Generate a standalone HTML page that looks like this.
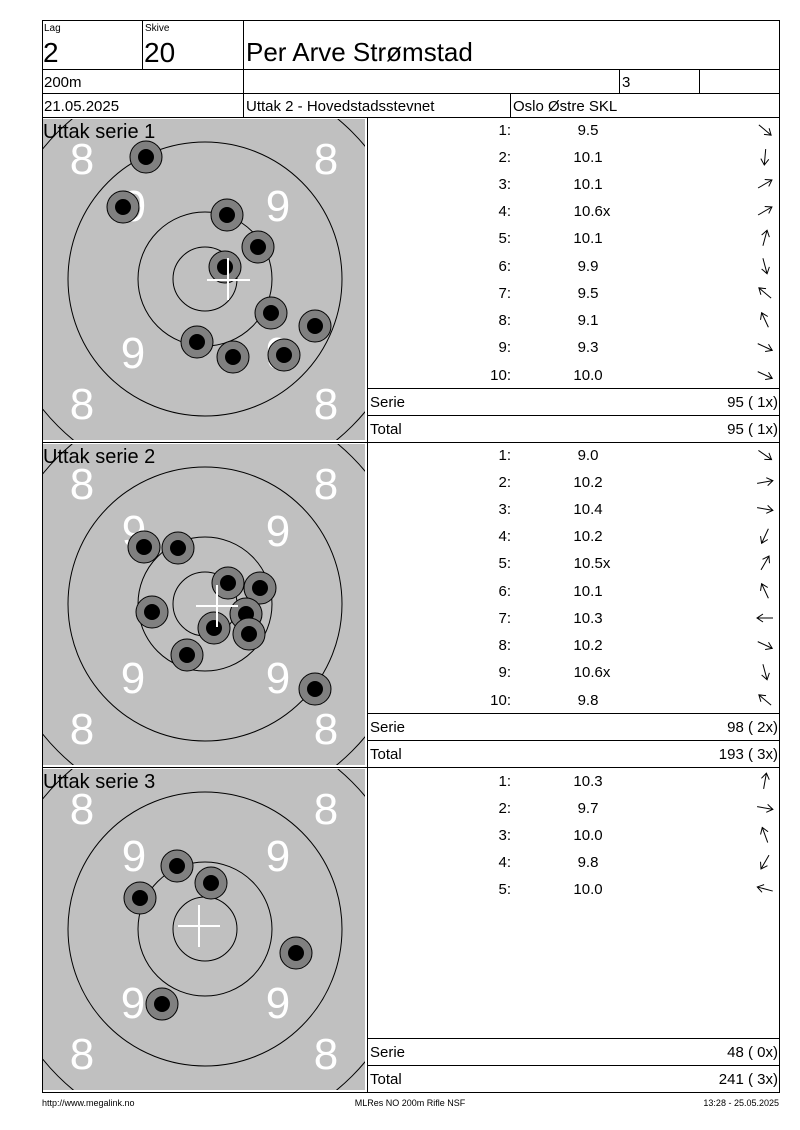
<!DOCTYPE html>
<html><head><meta charset="utf-8"><style>
html,body{margin:0;padding:0;background:#fff;}
svg{display:block;}
text{font-family:"Liberation Sans",Arial,sans-serif;}
</style></head><body>
<svg width="800" height="1130" viewBox="0 0 800 1130" xmlns="http://www.w3.org/2000/svg">
<defs>
<clipPath id="pc"><rect x="43" y="119" width="322" height="321"/></clipPath>
<g id="arr"><line x1="-8" y1="0" x2="8" y2="0" stroke="#000" stroke-width="1"/><polyline points="2,-4 8,0 2,4" fill="none" stroke="#000" stroke-width="1"/></g>
<g id="shot"><circle r="16" fill="#808080" stroke="#000" stroke-width="1"/><circle r="8" fill="#000"/></g>
<g id="panel">
<rect x="43" y="119" width="322" height="321" fill="#c0c0c0"/>
<g clip-path="url(#pc)" fill="none" stroke="#000" stroke-width="1">
<circle cx="205" cy="279" r="208"/>
<circle cx="205" cy="279" r="137"/>
<circle cx="205" cy="279" r="67"/>
<circle cx="205" cy="279" r="32"/>
</g>
<g fill="#fff" font-size="44" text-anchor="middle">
<text x="82" y="174">8</text><text x="326" y="174">8</text>
<text x="134" y="221">9</text><text x="278" y="221">9</text>
<text x="133" y="368">9</text><text x="278" y="368">9</text>
<text x="82" y="419">8</text><text x="326" y="419">8</text>
</g>
</g>
</defs>

<!-- header -->
<g stroke="#000" stroke-width="1" fill="none">
<rect x="42.5" y="20.5" width="737" height="1072"/>
<line x1="42" y1="69.5" x2="780" y2="69.5"/>
<line x1="42" y1="93.5" x2="780" y2="93.5"/>
<line x1="42" y1="117.5" x2="780" y2="117.5"/>
<line x1="142.5" y1="20" x2="142.5" y2="69"/>
<line x1="243.5" y1="20" x2="243.5" y2="117"/>
<line x1="619.5" y1="69" x2="619.5" y2="93"/>
<line x1="699.5" y1="69" x2="699.5" y2="93"/>
<line x1="510.5" y1="93" x2="510.5" y2="117"/>
<line x1="367.5" y1="117" x2="367.5" y2="1092"/>
<line x1="42" y1="442.5" x2="780" y2="442.5"/>
<line x1="42" y1="767.5" x2="780" y2="767.5"/>
<line x1="367" y1="388.5" x2="780" y2="388.5"/>
<line x1="367" y1="415.5" x2="780" y2="415.5"/>
<line x1="367" y1="713.5" x2="780" y2="713.5"/>
<line x1="367" y1="740.5" x2="780" y2="740.5"/>
<line x1="367" y1="1038.5" x2="780" y2="1038.5"/>
<line x1="367" y1="1065.5" x2="780" y2="1065.5"/>
</g>
<g fill="#000">
<text x="44" y="31" font-size="10">Lag</text>
<text x="145" y="31" font-size="10">Skive</text>
<text x="43" y="62" font-size="28">2</text>
<text x="144" y="62" font-size="28">20</text>
<text x="246" y="61" font-size="26">Per Arve Strømstad</text>
<text x="44" y="87" font-size="15">200m</text>
<text x="622" y="87" font-size="15">3</text>
<text x="44" y="111" font-size="15">21.05.2025</text>
<text x="246" y="111" font-size="15">Uttak 2 - Hovedstadsstevnet</text>
<text x="513" y="111" font-size="15">Oslo Østre SKL</text>
</g>

<!-- panels -->
<use href="#panel"/>
<use href="#panel" y="325"/>
<use href="#panel" y="650"/>
<text x="43" y="138" font-size="20">Uttak serie 1</text>
<text x="43" y="463" font-size="20">Uttak serie 2</text>
<text x="43" y="788" font-size="20">Uttak serie 3</text>

<!-- shots s1 -->
<use href="#shot" x="146" y="157"/><use href="#shot" x="123" y="207"/><use href="#shot" x="227" y="215"/><use href="#shot" x="258" y="247"/><use href="#shot" x="225" y="267"/><use href="#shot" x="271" y="313"/><use href="#shot" x="315" y="326"/><use href="#shot" x="197" y="342"/><use href="#shot" x="233" y="357"/><use href="#shot" x="284" y="355"/>
<g stroke="#fff" stroke-width="2"><line x1="207" y1="280" x2="250" y2="280"/><line x1="228" y1="258" x2="228" y2="300"/></g>
<!-- shots s2 -->
<use href="#shot" x="144" y="547"/><use href="#shot" x="178" y="548"/><use href="#shot" x="228" y="583"/><use href="#shot" x="260" y="588"/><use href="#shot" x="152" y="612"/><use href="#shot" x="246" y="614"/><use href="#shot" x="214" y="628"/><use href="#shot" x="249" y="634"/><use href="#shot" x="187" y="655"/><use href="#shot" x="315" y="689"/>
<g stroke="#fff" stroke-width="2"><line x1="196" y1="606" x2="238" y2="606"/><line x1="217" y1="585" x2="217" y2="627"/></g>
<!-- shots s3 -->
<use href="#shot" x="177" y="866"/><use href="#shot" x="211" y="883"/><use href="#shot" x="140" y="898"/><use href="#shot" x="296" y="953"/><use href="#shot" x="162" y="1004"/>
<g stroke="#fff" stroke-width="2"><line x1="178" y1="926" x2="220" y2="926"/><line x1="199" y1="905" x2="199" y2="947"/></g>

<!-- tables -->
<g font-size="15" fill="#000">
<g text-anchor="end">
<text x="511" y="135">1:</text><text x="511" y="162">2:</text><text x="511" y="189">3:</text><text x="511" y="216">4:</text><text x="511" y="243">5:</text><text x="511" y="271">6:</text><text x="511" y="298">7:</text><text x="511" y="325">8:</text><text x="511" y="352">9:</text><text x="511" y="380">10:</text>
<text x="511" y="460">1:</text><text x="511" y="487">2:</text><text x="511" y="514">3:</text><text x="511" y="541">4:</text><text x="511" y="568">5:</text><text x="511" y="596">6:</text><text x="511" y="623">7:</text><text x="511" y="650">8:</text><text x="511" y="677">9:</text><text x="511" y="705">10:</text>
<text x="511" y="786">1:</text><text x="511" y="813">2:</text><text x="511" y="840">3:</text><text x="511" y="867">4:</text><text x="511" y="894">5:</text>
<text x="778" y="407">95 ( 1x)</text><text x="778" y="434">95 ( 1x)</text>
<text x="778" y="732">98 ( 2x)</text><text x="778" y="759">193 ( 3x)</text>
<text x="778" y="1057">48 ( 0x)</text><text x="778" y="1084">241 ( 3x)</text>
</g>
<g text-anchor="middle">
<text x="588" y="135">9.5</text><text x="588" y="162">10.1</text><text x="588" y="189">10.1</text><text x="592" y="216">10.6x</text><text x="588" y="243">10.1</text><text x="588" y="271">9.9</text><text x="588" y="298">9.5</text><text x="588" y="325">9.1</text><text x="588" y="352">9.3</text><text x="588" y="380">10.0</text>
<text x="588" y="460">9.0</text><text x="588" y="487">10.2</text><text x="588" y="514">10.4</text><text x="588" y="541">10.2</text><text x="592" y="568">10.5x</text><text x="588" y="596">10.1</text><text x="588" y="623">10.3</text><text x="588" y="650">10.2</text><text x="592" y="677">10.6x</text><text x="588" y="705">9.8</text>
<text x="588" y="786">10.3</text><text x="588" y="813">9.7</text><text x="588" y="840">10.0</text><text x="588" y="867">9.8</text><text x="588" y="894">10.0</text>
</g>
<text x="370" y="407">Serie</text><text x="370" y="434">Total</text>
<text x="370" y="732">Serie</text><text x="370" y="759">Total</text>
<text x="370" y="1057">Serie</text><text x="370" y="1084">Total</text>
</g>

<!-- arrows -->
<use href="#arr" transform="translate(765,130) rotate(40)"/>
<use href="#arr" transform="translate(765,157) rotate(95)"/>
<use href="#arr" transform="translate(765,184) rotate(-30)"/>
<use href="#arr" transform="translate(765,211) rotate(-30)"/>
<use href="#arr" transform="translate(765,238) rotate(-75)"/>
<use href="#arr" transform="translate(765,266) rotate(75)"/>
<use href="#arr" transform="translate(765,293) rotate(-140)"/>
<use href="#arr" transform="translate(765,320) rotate(-115)"/>
<use href="#arr" transform="translate(765,347) rotate(25)"/>
<use href="#arr" transform="translate(765,375) rotate(25)"/>
<use href="#arr" transform="translate(765,455) rotate(35)"/>
<use href="#arr" transform="translate(765,482) rotate(-10)"/>
<use href="#arr" transform="translate(765,509) rotate(10)"/>
<use href="#arr" transform="translate(765,536) rotate(115)"/>
<use href="#arr" transform="translate(765,563) rotate(-60)"/>
<use href="#arr" transform="translate(765,591) rotate(-115)"/>
<use href="#arr" transform="translate(765,618) rotate(180)"/>
<use href="#arr" transform="translate(765,645) rotate(25)"/>
<use href="#arr" transform="translate(765,672) rotate(75)"/>
<use href="#arr" transform="translate(765,700) rotate(-140)"/>
<use href="#arr" transform="translate(765,781) rotate(-80)"/>
<use href="#arr" transform="translate(765,808) rotate(10)"/>
<use href="#arr" transform="translate(765,835) rotate(-110)"/>
<use href="#arr" transform="translate(765,862) rotate(120)"/>
<use href="#arr" transform="translate(765,889) rotate(-165)"/>

<!-- footer -->
<g font-size="9" fill="#000">
<text x="42" y="1106">http://www.megalink.no</text>
<text x="410" y="1106" text-anchor="middle">MLRes NO 200m Rifle NSF</text>
<text x="779" y="1106" text-anchor="end">13:28 - 25.05.2025</text>
</g>
</svg>
</body></html>
